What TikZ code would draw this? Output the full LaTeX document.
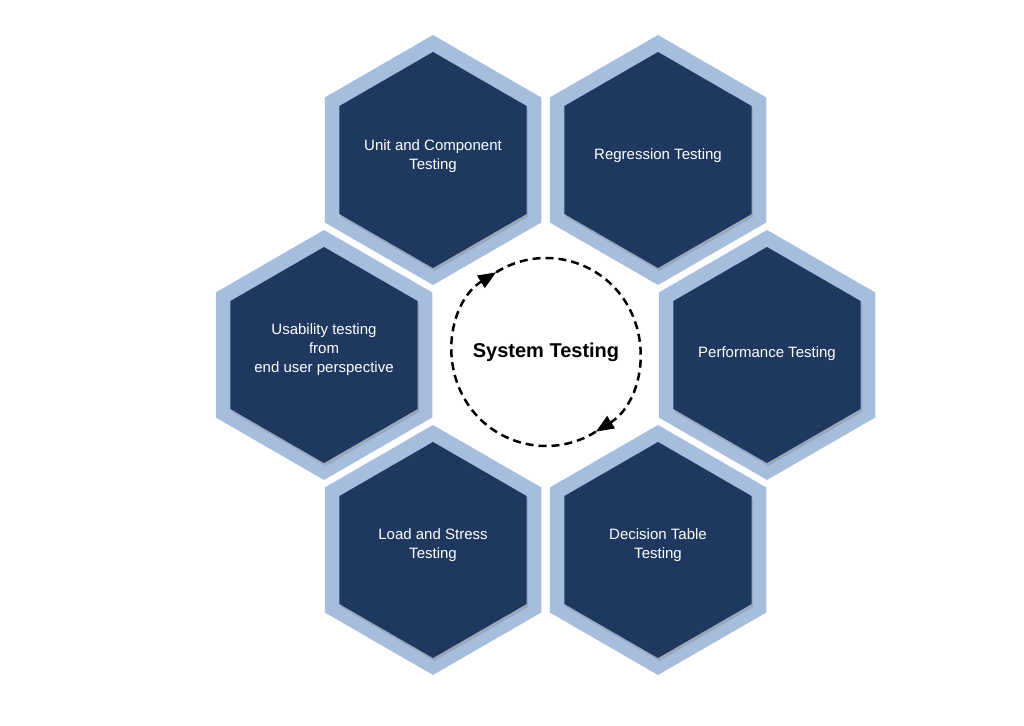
\documentclass[tikz,border=0pt]{standalone}
\usepackage{fontspec}
\setmainfont{Liberation Sans}
\usetikzlibrary{arrows.meta,calc,shapes.geometric,shadows}
\definecolor{hexpale}{RGB}{167,189,222}
\definecolor{hexnavy}{RGB}{31,56,96}

\begin{document}
\begin{tikzpicture}[
      x=1pt,y=1pt,
      hexrim/.style={
        regular polygon,
        regular polygon sides=6,
        shape border rotate=30,
        fill=hexpale,
        draw=none,
        minimum size=250pt,
        inner sep=0pt
      },
      hexcore/.style={
        regular polygon,
        regular polygon sides=6,
        shape border rotate=30,
        fill=hexnavy,
        draw=none,
        minimum size=216pt,
        inner sep=0pt,
        drop shadow={shadow xshift=1.5pt,shadow yshift=-3pt,opacity=0.35}
      },
      hextext/.style={text=white,align=center,font=\fontsize{15}{19}\selectfont},
      loopline/.style={-{Triangle[length=18pt,width=14pt]},line width=2.5pt,dash pattern=on 8pt off 5pt}
    ]
      \useasboundingbox (0,0) rectangle (1024,725);
      \coordinate (hub) at (545.5,370);
      \node[hexrim] (unit-rim) at ($(hub)+(-112.5,195)$) {};
      \node[hexrim] (regr-rim) at ($(hub)+(112.5,195)$) {};
      \node[hexrim] (usab-rim) at ($(hub)+(-221.5,0)$) {};
      \node[hexrim] (perf-rim) at ($(hub)+(221.5,0)$) {};
      \node[hexrim] (load-rim) at ($(hub)+(-112.5,-195)$) {};
      \node[hexrim] (dect-rim) at ($(hub)+(112.5,-195)$) {};
      \node[hexcore] (unit) at (unit-rim) {};
      \node[hexcore] (regr) at (regr-rim) {};
      \node[hexcore] (usab) at (usab-rim) {};
      \node[hexcore] (perf) at (perf-rim) {};
      \node[hexcore] (load) at (load-rim) {};
      \node[hexcore] (dect) at (dect-rim) {};
      \node[hextext] (unit-txt) at ([yshift=4pt]unit.center) {Unit and Component\\Testing};
      \node[hextext] (regr-txt) at ([yshift=4pt]regr.center) {Regression Testing};
      \node[hextext] (usab-txt) at ([yshift=5pt]usab.center) {Usability testing\\from\\end user perspective};
      \node[hextext] (perf-txt) at ([yshift=1.5pt]perf.center) {Performance Testing};
      \node[hextext] (load-txt) at ([yshift=5pt]load.center) {Load and Stress\\Testing};
      \node[hextext] (dect-txt) at ([yshift=5pt]dect.center) {Decision Table\\Testing};
      % centre with the dashed cycle
      \node[font=\fontsize{20}{24}\bfseries] (sys) at (546,373) {System Testing};
      \coordinate (ring) at (546,373);
      \draw[loopline] ($(ring)+(302:94)$) arc[start angle=302,end angle=122,radius=94];
      \draw[loopline] ($(ring)+(122:94)$) arc[start angle=122,end angle=-58,radius=94];
    \end{tikzpicture}
\end{document}
